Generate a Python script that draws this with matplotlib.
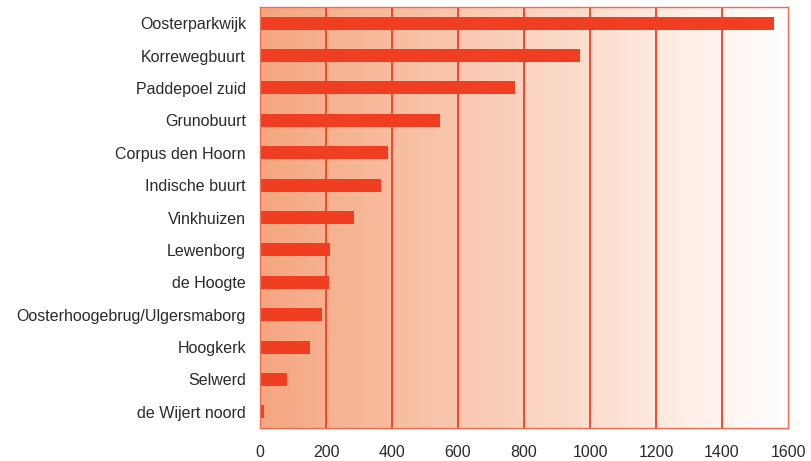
import numpy as np
import matplotlib.pyplot as plt
from matplotlib.colors import LinearSegmentedColormap

plt.rcParams['font.family'] = ['Liberation Sans', 'DejaVu Sans']

# neighbourhoods, top to bottom
wijken = ['Oosterparkwijk', 'Korrewegbuurt', 'Paddepoel zuid', 'Grunobuurt',
          'Corpus den Hoorn', 'Indische buurt', 'Vinkhuizen', 'Lewenborg',
          'de Hoogte', 'Oosterhoogebrug/Ulgersmaborg', 'Hoogkerk', 'Selwerd',
          'de Wijert noord']
waarden = [1557, 970, 773, 545, 388, 367, 285, 212, 209, 188, 152, 81, 11]
xticks = [0, 200, 400, 600, 800, 1000, 1200, 1400, 1600]

red = '#F03E23'

fig = plt.figure(figsize=(8.11, 4.61), dpi=100)
ax = fig.add_axes([260/811, 1 - 428/461, 528/811, 421/461])

# background gradient orange -> white
cmap = LinearSegmentedColormap.from_list('bg', ['#F5A67F', '#FFFFFF'])
grad = np.linspace(0, 1, 256).reshape(1, -1)
ax.imshow(grad, cmap=cmap, aspect='auto', extent=[0, 1600, -0.5, 12.5],
          zorder=0)

for x in xticks[1:-1]:
    ax.axvline(x, color=red, lw=1.3, zorder=1)

y = np.arange(len(wijken))
ax.barh(y, waarden, height=0.4, color=red, zorder=2)

ax.set_xlim(0, 1600)
ax.set_ylim(len(wijken) - 0.5, -0.5)
ax.set_yticks(y)
ax.set_yticklabels(wijken, fontsize=11.5, color='#2a2a2a')
ax.set_xticks(xticks)
ax.set_xticklabels([str(v) for v in xticks], fontsize=11.5, color='#2a2a2a')
ax.tick_params(axis='y', length=0, pad=10)
ax.tick_params(axis='x', length=0, pad=12.5)
for s in ax.spines.values():
    s.set_color('#F26A50')
    s.set_linewidth(1.0)

fig.savefig('out.png', dpi=100)
